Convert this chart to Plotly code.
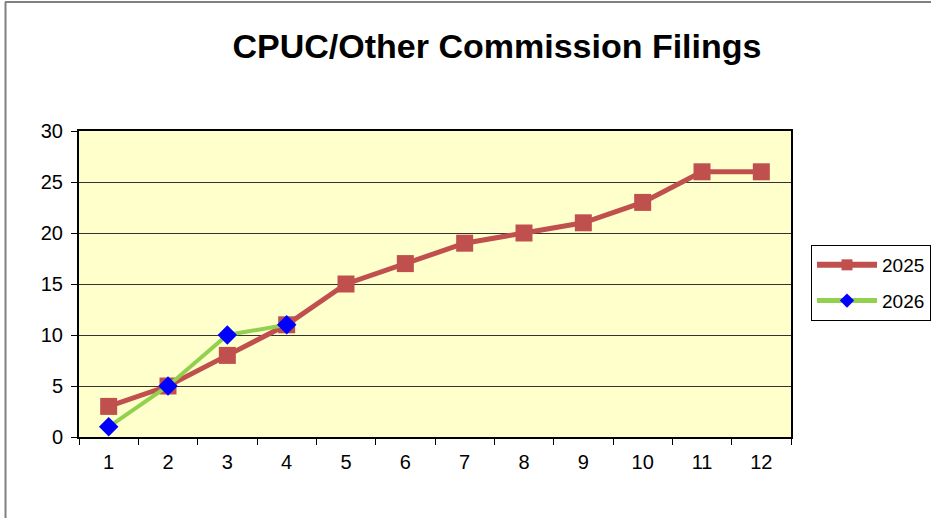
import plotly.graph_objects as go

months = ["1", "2", "3", "4", "5", "6", "7", "8", "9", "10", "11", "12"]
filings_2025 = [3, 5, 8, 11, 15, 17, 19, 20, 21, 23, 26, 26]
months_2026 = ["1", "2", "3", "4"]
filings_2026 = [1, 5, 10, 11]
y_ticks = [0, 5, 10, 15, 20, 25, 30]

W, H = 931, 518
L, R, T, B = 79, 791, 131, 437
pw, ph = R - L, B - T

def px_x(x):
    return (x - L) / pw

def px_y(y):
    return (B - y) / ph

RED, GREEN, BLUE = "#C0504D", "#92D050", "#0000FF"

fig = go.Figure()
fig.add_trace(go.Scatter(
    x=months, y=filings_2025, name="2025", mode="lines+markers", showlegend=False,
    line=dict(color=RED, width=5),
    marker=dict(symbol="square", size=17, color=RED),
))
fig.add_trace(go.Scatter(
    x=months_2026, y=filings_2026, name="2026", mode="lines+markers", showlegend=False,
    line=dict(color=GREEN, width=4),
    marker=dict(symbol="diamond", size=15, color=BLUE),
))
# legend entries (smaller symbols, as in the original legend)
fig.add_trace(go.Scatter(
    x=[None], y=[None], name="2025", mode="lines+markers", legendgroup="a",
    line=dict(color=RED, width=6),
    marker=dict(symbol="square", size=11, color=RED),
))
fig.add_trace(go.Scatter(
    x=[None], y=[None], name="2026", mode="lines+markers", legendgroup="b",
    line=dict(color=GREEN, width=5),
    marker=dict(symbol="diamond", size=11, color=BLUE),
))

fig.update_layout(
    width=W, height=H,
    margin=dict(l=L, r=W - R, t=T, b=H - B, pad=0, autoexpand=False),
    paper_bgcolor="white",
    plot_bgcolor="#FFFFCC",
    font=dict(family="Liberation Sans, Arial, sans-serif", size=20, color="black"),
    title=dict(text="<b>CPUC/Other Commission Filings</b>", x=497 / W, xanchor="center",
               y=1 - 46 / H, yanchor="middle", font=dict(size=34, color="black")),
    showlegend=True,
    legend=dict(x=px_x(811), xanchor="left", y=px_y(245), yanchor="top",
                bordercolor="black", borderwidth=1, bgcolor="white",
                font=dict(size=19), tracegroupgap=8, itemwidth=60),
    xaxis=dict(type="category", categoryorder="array", categoryarray=months,
               range=[-0.5, 11.5], tickson="boundaries", ticks="outside", ticklen=6,
               tickcolor="black", showgrid=False, showline=True, linecolor="black",
               linewidth=2, mirror=True, ticklabelstandoff=6),
    yaxis=dict(range=[0, 30], tickvals=y_ticks, ticks="outside", ticklen=6,
               tickcolor="black", showgrid=True, gridcolor="#333333", gridwidth=1,
               showline=True, linecolor="black", linewidth=2, mirror=True,
               zeroline=False, ticklabelstandoff=4),
    shapes=[
        dict(type="line", xref="paper", yref="paper", x0=px_x(5.5), x1=px_x(5.5),
             y0=px_y(2), y1=px_y(530), line=dict(color="#808080", width=2)),
        dict(type="line", xref="paper", yref="paper", x0=px_x(5), x1=px_x(940),
             y0=px_y(2), y1=px_y(2), line=dict(color="#808080", width=2)),
    ],
)
fig.write_html("out.html", config={"displayModeBar": False},
               post_script="document.body.style.margin='0px';document.body.style.overflow='hidden';")
